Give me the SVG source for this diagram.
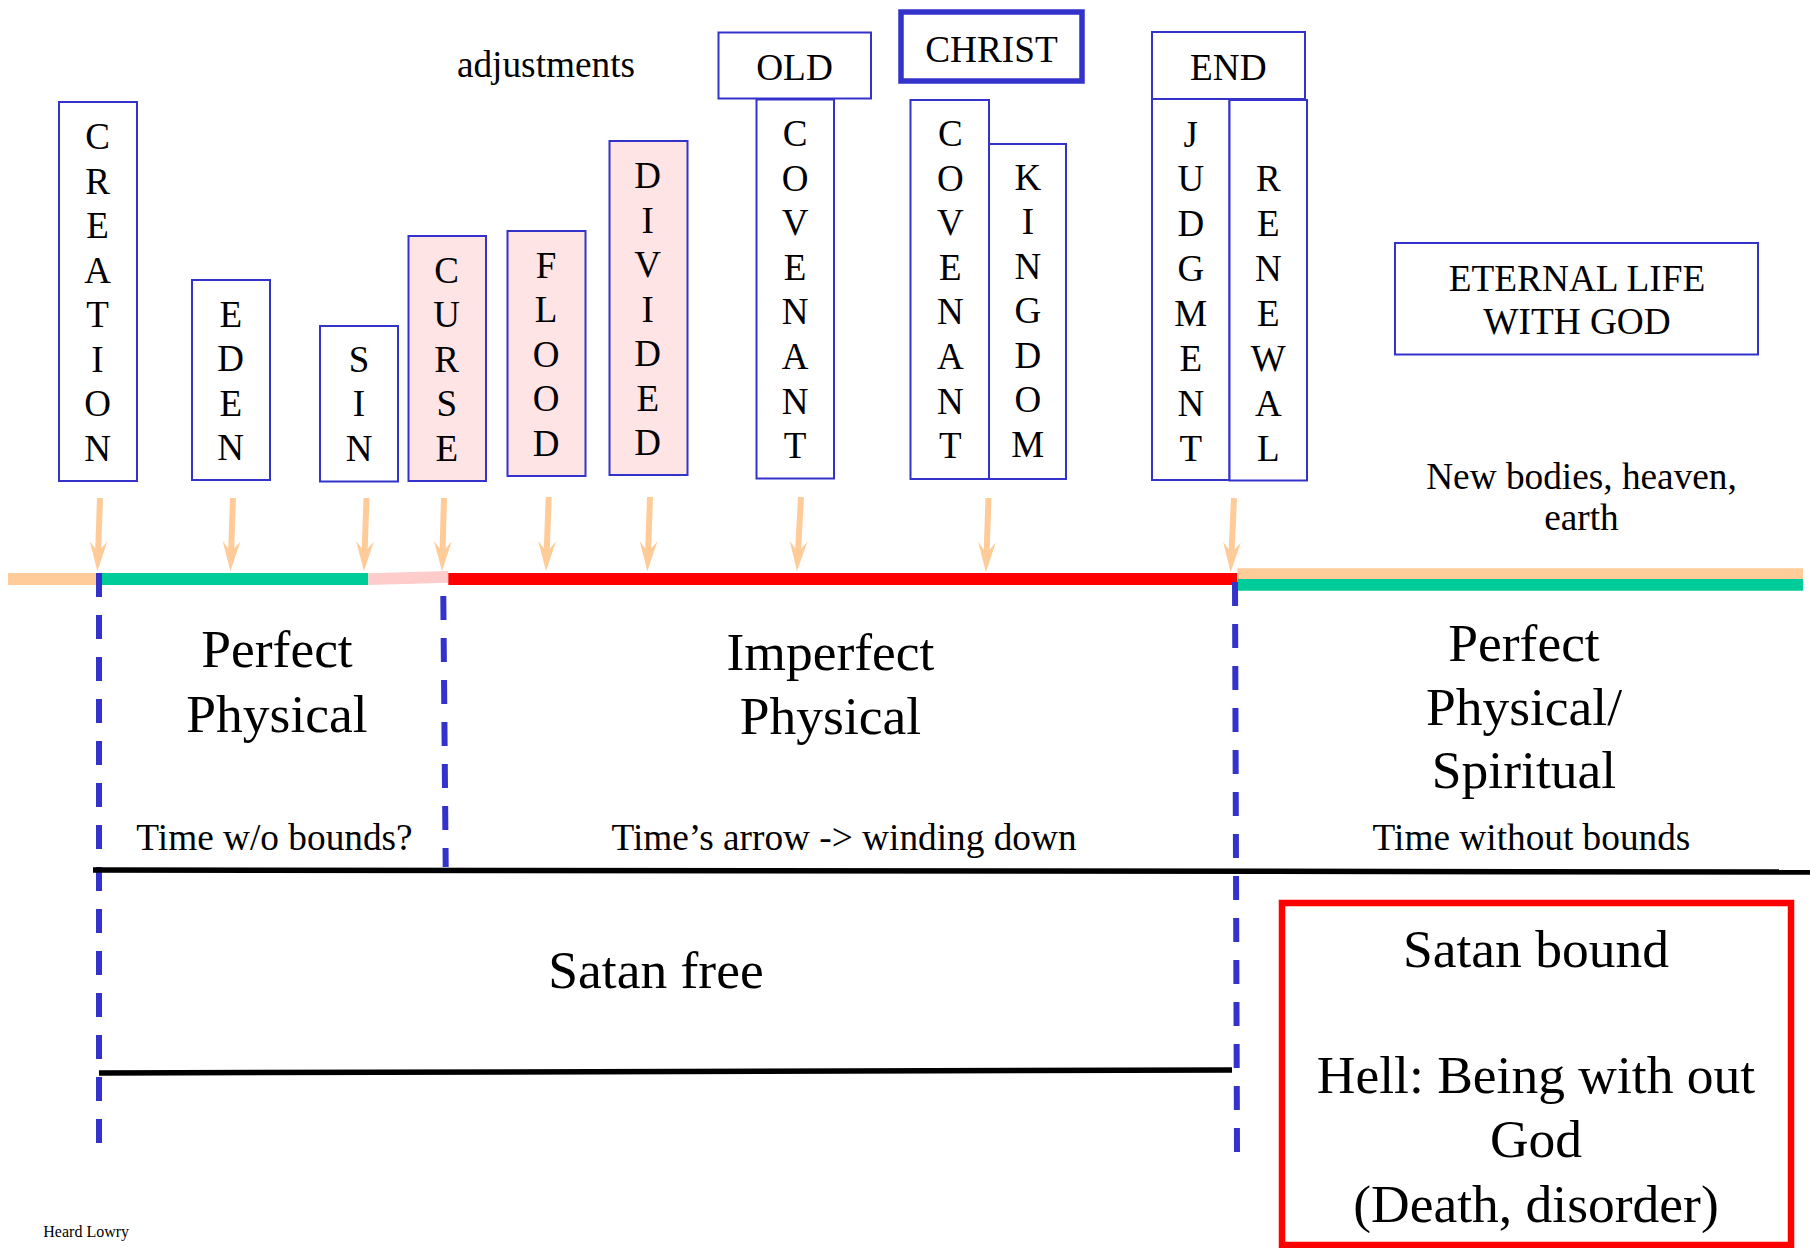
<svg xmlns="http://www.w3.org/2000/svg" width="1810" height="1248" viewBox="0 0 1810 1248">
<style>
  text { font-family: "Liberation Serif", "Times New Roman", serif; fill: #000; }
  .box { fill: #fff; stroke: #3333CC; stroke-width: 2; }
  .thick { fill: #fff; stroke: #3333CC; stroke-width: 5.5; }
  .pink { fill: #FFE4E6; stroke: #3333CC; stroke-width: 2; }
  .v { font-size: 37px; text-anchor: middle; }
  .m { font-size: 37.3px; text-anchor: middle; }
  .big { font-size: 53.5px; text-anchor: middle; }
  .arrow { stroke: #FFCC99; stroke-width: 6; fill: none; marker-end: url(#ah); }
  .dash { stroke: #3333CC; stroke-width: 6; stroke-dasharray: 24 18; fill: none; }
  .blk { stroke: #000; stroke-width: 5.5; fill: none; }
</style>
<defs>
  <marker id="ah" markerUnits="userSpaceOnUse" markerWidth="30" markerHeight="20" viewBox="0 -9 28 18" refX="10" refY="0" orient="auto">
    <path d="M28,0 L0,-8.3 L10,0 L0,8.3 Z" fill="#FFCC99"/>
  </marker>
</defs>
<rect width="1810" height="1248" fill="#fff"/>

<g id="timeline">
  <line x1="8" y1="579" x2="98" y2="579" stroke="#FFCC99" stroke-width="12"/>
  <line x1="98" y1="579" x2="368.3" y2="579" stroke="#00CC99" stroke-width="12"/>
  <polygon points="368.3,573.3 448.3,571 448.3,582.7 368.3,585" fill="#FFCCCC"/>
  <line x1="448.3" y1="579" x2="1237.3" y2="579" stroke="#FF0000" stroke-width="12"/>
  <line x1="1237.3" y1="573.6" x2="1803" y2="573.6" stroke="#FFCC99" stroke-width="10.6"/>
  <line x1="1237.3" y1="584.9" x2="1803" y2="584.9" stroke="#00CC99" stroke-width="11.8"/>
</g>

<g id="dividers">
  <line class="dash" x1="99" y1="573" x2="99" y2="1143"/>
  <line class="dash" x1="443.3" y1="596" x2="445.7" y2="867"/>
  <line class="dash" x1="1235" y1="582" x2="1237" y2="1152"/>
  <line class="blk" x1="93" y1="870" x2="1810" y2="872"/>
  <line class="blk" x1="99" y1="1073" x2="1232" y2="1070"/>
</g>

<g id="connectors">
  <line class="arrow" x1="100" y1="498" x2="98.1" y2="552"/>
  <line class="arrow" x1="233" y1="498" x2="231.1" y2="552"/>
  <line class="arrow" x1="366.5" y1="498" x2="364.6" y2="552"/>
  <line class="arrow" x1="444" y1="498" x2="442.5" y2="552"/>
  <line class="arrow" x1="548.7" y1="497" x2="546.7" y2="552"/>
  <line class="arrow" x1="650" y1="497" x2="648.1" y2="552"/>
  <line class="arrow" x1="801" y1="497" x2="798" y2="552"/>
  <line class="arrow" x1="988.5" y1="498" x2="986.6" y2="553"/>
  <line class="arrow" x1="1234" y1="498" x2="1231.5" y2="553"/>
</g>

<g id="creation">
  <rect class="box" x="59" y="102" width="78" height="379"/>
  <text class="v"><tspan x="97.5" y="149">C</tspan><tspan x="97.5" y="193.5">R</tspan><tspan x="97.5" y="238">E</tspan><tspan x="97.5" y="282.5">A</tspan><tspan x="97.5" y="327">T</tspan><tspan x="97.5" y="371.5">I</tspan><tspan x="97.5" y="416">O</tspan><tspan x="97.5" y="460.5">N</tspan></text>
</g>
<g id="eden">
  <rect class="box" x="192" y="280" width="78" height="200"/>
  <text class="v"><tspan x="230.7" y="326.5">E</tspan><tspan x="230.7" y="371">D</tspan><tspan x="230.7" y="415.5">E</tspan><tspan x="230.7" y="460">N</tspan></text>
</g>
<g id="sin">
  <rect class="box" x="320" y="326" width="78" height="155.5"/>
  <text class="v"><tspan x="359" y="371.5">S</tspan><tspan x="359" y="416">I</tspan><tspan x="359" y="460.5">N</tspan></text>
</g>
<g id="curse">
  <rect class="pink" x="408.5" y="236" width="77.5" height="245"/>
  <text class="v"><tspan x="446.7" y="282.5">C</tspan><tspan x="446.7" y="327">U</tspan><tspan x="446.7" y="371.5">R</tspan><tspan x="446.7" y="416">S</tspan><tspan x="446.7" y="460.5">E</tspan></text>
</g>
<g id="flood">
  <rect class="pink" x="507.5" y="231" width="78" height="245"/>
  <text class="v"><tspan x="546" y="277.5">F</tspan><tspan x="546" y="322">L</tspan><tspan x="546" y="366.5">O</tspan><tspan x="546" y="411">O</tspan><tspan x="546" y="455.5">D</tspan></text>
</g>
<g id="divided">
  <rect class="pink" x="609.5" y="141" width="78" height="334"/>
  <text class="v"><tspan x="647.7" y="188">D</tspan><tspan x="647.7" y="232.5">I</tspan><tspan x="647.7" y="277">V</tspan><tspan x="647.7" y="321.5">I</tspan><tspan x="647.7" y="366">D</tspan><tspan x="647.7" y="410.5">E</tspan><tspan x="647.7" y="455">D</tspan></text>
</g>
<g id="adjustments">
  <text class="m" x="546" y="77">adjustments</text>
</g>
<g id="old">
  <rect class="box" x="718.5" y="32.5" width="152.5" height="66"/>
  <text class="m" x="794.5" y="80">OLD</text>
</g>
<g id="old-covenant">
  <rect class="box" x="756.5" y="99.5" width="77.5" height="379"/>
  <text class="v"><tspan x="795" y="146">C</tspan><tspan x="795" y="190.6">O</tspan><tspan x="795" y="235.2">V</tspan><tspan x="795" y="279.8">E</tspan><tspan x="795" y="324.4">N</tspan><tspan x="795" y="369">A</tspan><tspan x="795" y="413.6">N</tspan><tspan x="795" y="458.2">T</tspan></text>
</g>
<g id="christ">
  <rect class="thick" x="901" y="12" width="181" height="69"/>
  <text class="m" x="991.5" y="62">CHRIST</text>
</g>
<g id="christ-covenant">
  <rect class="box" x="910.5" y="100" width="78.5" height="379"/>
  <text class="v"><tspan x="950.3" y="146">C</tspan><tspan x="950.3" y="190.6">O</tspan><tspan x="950.3" y="235.2">V</tspan><tspan x="950.3" y="279.8">E</tspan><tspan x="950.3" y="324.4">N</tspan><tspan x="950.3" y="369">A</tspan><tspan x="950.3" y="413.6">N</tspan><tspan x="950.3" y="458.2">T</tspan></text>
</g>
<g id="kingdom">
  <rect class="box" x="989" y="144" width="77" height="335"/>
  <text class="v"><tspan x="1027.8" y="189.5">K</tspan><tspan x="1027.8" y="234">I</tspan><tspan x="1027.8" y="278.6">N</tspan><tspan x="1027.8" y="323.2">G</tspan><tspan x="1027.8" y="367.8">D</tspan><tspan x="1027.8" y="412.4">O</tspan><tspan x="1027.8" y="457">M</tspan></text>
</g>
<g id="end">
  <rect class="box" x="1152" y="32" width="153" height="67"/>
  <text class="m" x="1228.3" y="79.5">END</text>
</g>
<g id="judgment">
  <rect class="box" x="1152" y="99" width="77.5" height="381"/>
  <text class="v"><tspan x="1190.8" y="146.5">J</tspan><tspan x="1190.8" y="191.4">U</tspan><tspan x="1190.8" y="236.3">D</tspan><tspan x="1190.8" y="281.2">G</tspan><tspan x="1190.8" y="326.1">M</tspan><tspan x="1190.8" y="371">E</tspan><tspan x="1190.8" y="415.9">N</tspan><tspan x="1190.8" y="460.8">T</tspan></text>
</g>
<g id="renewal">
  <rect class="box" x="1229.5" y="100" width="77.5" height="380.5"/>
  <text class="v"><tspan x="1268.3" y="190.5">R</tspan><tspan x="1268.3" y="235.5">E</tspan><tspan x="1268.3" y="280.5">N</tspan><tspan x="1268.3" y="325.5">E</tspan><tspan x="1268.3" y="370.5">W</tspan><tspan x="1268.3" y="415.5">A</tspan><tspan x="1268.3" y="460.5">L</tspan></text>
</g>
<g id="eternal-life">
  <rect class="box" x="1395" y="243" width="363" height="111.5"/>
  <text class="m"><tspan x="1577" y="291">ETERNAL LIFE</tspan><tspan x="1577" y="333.7">WITH GOD</tspan></text>
</g>
<g id="new-bodies">
  <text class="m"><tspan x="1581.5" y="488.5">New bodies, heaven,</tspan><tspan x="1581.5" y="530">earth</tspan></text>
</g>

<g id="perfect-physical">
  <text class="big"><tspan x="277" y="667">Perfect</tspan><tspan x="277" y="731.5">Physical</tspan></text>
  <text class="m" x="274.5" y="850">Time w/o bounds?</text>
</g>
<g id="imperfect-physical">
  <text class="big"><tspan x="830.5" y="670">Imperfect</tspan><tspan x="830.5" y="734">Physical</tspan></text>
  <text class="m" x="844" y="850">Time’s arrow -&gt; winding down</text>
</g>
<g id="perfect-spiritual">
  <text class="big"><tspan x="1524" y="661">Perfect</tspan><tspan x="1524" y="725">Physical/</tspan><tspan x="1524" y="788">Spiritual</tspan></text>
  <text class="m" x="1531.5" y="850">Time without bounds</text>
</g>
<g id="satan-free">
  <text class="big" x="656" y="988">Satan free</text>
</g>
<g id="satan-bound">
  <rect x="1282" y="903" width="509" height="342" fill="none" stroke="#FF0000" stroke-width="6.5"/>
  <text class="big"><tspan x="1536" y="966.7">Satan bound</tspan><tspan x="1536" y="1093.3">Hell: Being with out</tspan><tspan x="1536" y="1157.3">God</tspan><tspan x="1536" y="1221.7">(Death, disorder)</tspan></text>
</g>
<g id="credit">
  <text x="43.3" y="1236.7" font-size="16">Heard Lowry</text>
</g>
</svg>
